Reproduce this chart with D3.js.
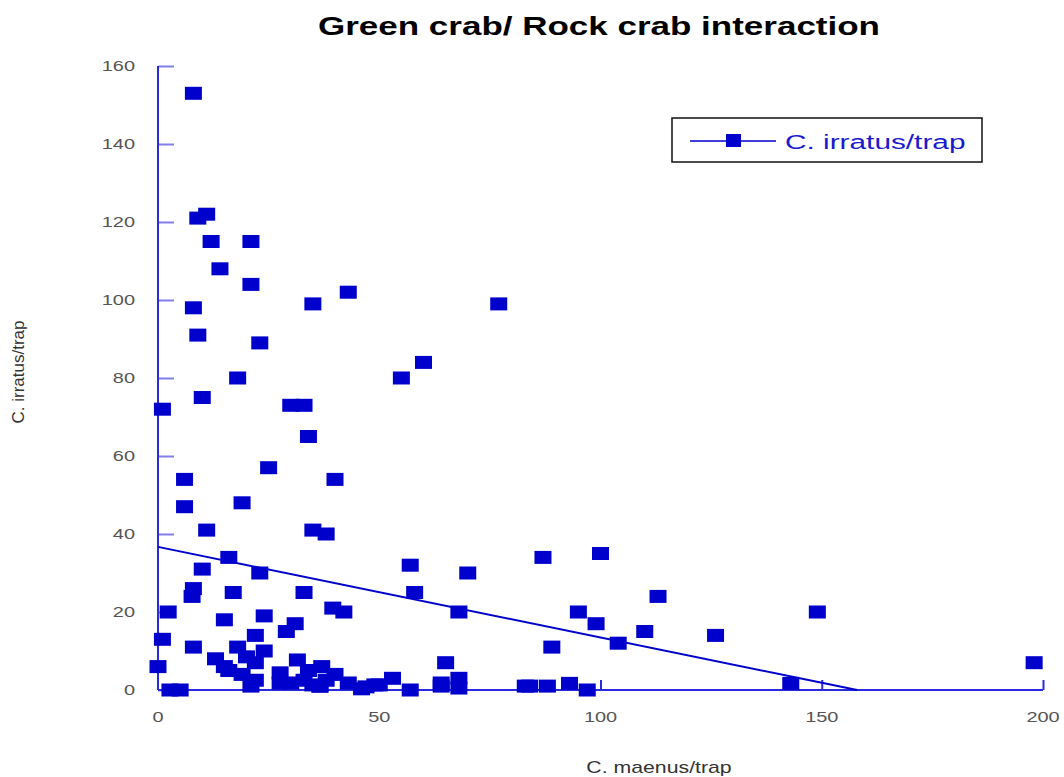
<!DOCTYPE html>
<html>
<head>
<meta charset="utf-8">
<script src="https://cdn.jsdelivr.net/npm/d3@7"></script>
<style>
  body { margin: 0; background: #fff; }
  text { font-family: "Liberation Sans", Arial, sans-serif; }
</style>
</head>
<body>
<div id="chart"></div>
<script>
// C. maenus per trap (x) vs C. irratus per trap (y)
var maenus = [8, 9, 11, 12, 21, 14, 21, 8, 35, 43, 77, 9, 23, 55, 60, 18, 10, 1, 30, 33,
    34, 25, 40, 6, 6, 19, 11, 35, 38, 16, 57, 87, 100, 70, 10, 23, 8, 7.7, 17, 33,
    58, 2.3, 24, 15, 39.5, 42, 68, 95, 99, 113, 149, 104, 110, 126, 89, 1, 8, 31, 29, 22,
    24, 13, 18, 0, 15, 20, 22, 16, 19, 22, 21, 2.7, 5, 27.6, 27.6, 31.5, 34, 35, 37, 40,
    43, 47, 49, 53, 57, 33, 30, 36.6, 65, 68, 64, 68, 50, 46, 64, 83, 84, 88, 93, 97,
    143, 198, 36.6, 38];
var irratus = [153, 121, 122, 115, 115, 108, 104, 98, 99, 102, 99, 91, 89, 80, 84, 80, 75, 72, 73, 73,
    65, 57, 54, 54, 47, 48, 41, 41, 40, 34, 32, 34, 35, 30, 31, 30, 26, 24, 25, 25,
    25, 20, 19, 18, 21, 20, 20, 20, 17, 24, 20, 12, 15, 14, 11, 13, 11, 17, 15, 14,
    10, 8, 11, 6, 6, 8.5, 7, 5, 4, 2.5, 1, 0, 0, 4.4, 1.8, 7.7, 5, 1.3, 6, 4,
    1.8, 0.8, 1.3, 3, 0, 2.5, 1.8, 1, 7, 3, 1.8, 0.5, 1.3, 0.3, 1, 1, 1, 1, 1.7, 0,
    1.7, 7, 1, 2.5];
// fitted trend line
var fitX = [0, 158];
var fitY = [36.7, 0];

var xTicks = [0, 50, 100, 150, 200];
var yTicks = [0, 20, 40, 60, 80, 100, 120, 140, 160];

var chartTitle = "Green crab/ Rock crab interaction";
var xLabel = "C. maenus/trap";
var yLabel = "C. irratus/trap";
var seriesName = "C. irratus/trap";

var W = 1064, H = 777;
var plotL = 158, plotR = 1043, plotT = 66, plotB = 690;
var blue = "#0000cc", axisBlue = "#2a2ae0", gray = "#555";
var sx = 1.33; // the original picture is stretched sideways

var svg = d3.select("#chart").append("svg")
    .attr("width", W).attr("height", H);

var x = d3.scaleLinear().domain([0, 200]).range([plotL, plotR]);
var y = d3.scaleLinear().domain([0, 160]).range([plotB, plotT]);

function place(px, py) {
    return "translate(" + px + "," + py + ") scale(" + sx + ",1)";
}

// title
svg.append("text")
    .attr("x", 599).attr("y", 35)
    .attr("text-anchor", "middle")
    .style("font-size", "25px").style("font-weight", "bold")
    .attr("textLength", 562).attr("lengthAdjust", "spacingAndGlyphs")
    .text(chartTitle);

// axes
var yAxis = d3.axisRight(y).tickValues(yTicks).tickSize(16).tickFormat("");
var gy = svg.append("g").attr("transform", "translate(" + plotL + ",0)").call(yAxis);
gy.select(".domain").remove();
gy.selectAll("line").attr("stroke", axisBlue).attr("stroke-width", 2).attr("opacity", 0.6);

var xAxis = d3.axisTop(x).tickValues(xTicks.slice(1)).tickSize(10).tickFormat("");
var gx = svg.append("g").attr("transform", "translate(0," + plotB + ")").call(xAxis);
gx.select(".domain").remove();
gx.selectAll("line").attr("stroke", axisBlue).attr("stroke-width", 2);

svg.append("line")
    .attr("x1", plotL).attr("x2", plotL).attr("y1", plotT).attr("y2", plotB)
    .attr("stroke", axisBlue).attr("stroke-width", 2);
svg.append("line")
    .attr("x1", plotL).attr("x2", plotR).attr("y1", plotB).attr("y2", plotB)
    .attr("stroke", axisBlue).attr("stroke-width", 2);

// tick labels
svg.selectAll(".ylab").data(yTicks).enter().append("text")
    .attr("transform", function (d) { return place(135, y(d) + 5); })
    .attr("text-anchor", "end")
    .style("font-size", "15px").attr("fill", gray)
    .text(function (d) { return d; });

svg.selectAll(".xlab").data(xTicks).enter().append("text")
    .attr("transform", function (d) { return place(x(d), 722); })
    .attr("text-anchor", "middle")
    .style("font-size", "15px").attr("fill", gray)
    .text(function (d) { return d; });

// axis titles
svg.append("text")
    .attr("transform", place(659, 773))
    .attr("text-anchor", "middle")
    .style("font-size", "16px").attr("fill", "#333")
    .text(xLabel);

svg.append("text")
    .attr("transform", "translate(24,372) rotate(-90)")
    .attr("text-anchor", "middle")
    .style("font-size", "17px").attr("fill", "#333")
    .text(yLabel);

// trend line
var line = d3.line()
    .x(function (d) { return x(d[0]); })
    .y(function (d) { return y(d[1]); });
svg.append("path")
    .datum(fitX.map(function (v, i) { return [v, fitY[i]]; }))
    .attr("d", line)
    .attr("fill", "none").attr("stroke", blue).attr("stroke-width", 2);

// points
var pts = maenus.map(function (v, i) { return [v, irratus[i]]; });
var mw = 17, mh = 13;
svg.append("g").selectAll("rect").data(pts).enter().append("rect")
    .attr("x", function (d) { return x(d[0]) - mw / 2; })
    .attr("y", function (d) { return y(d[1]) - mh / 2; })
    .attr("width", mw).attr("height", mh)
    .attr("fill", blue);

// legend
var lg = svg.append("g").attr("transform", "translate(672,118)");
lg.append("rect").attr("width", 310).attr("height", 44)
    .attr("fill", "#fff").attr("stroke", "#111").attr("stroke-width", 1.5);
lg.append("line").attr("x1", 18).attr("x2", 104).attr("y1", 23).attr("y2", 23)
    .attr("stroke", blue).attr("stroke-width", 1.5);
lg.append("rect").attr("x", 54).attr("y", 16).attr("width", 15).attr("height", 13)
    .attr("fill", blue);
lg.append("text").attr("transform", "translate(113,31) scale(1.42,1)")
    .style("font-size", "21px").attr("fill", "#1a1ad0")
    .text(seriesName);
</script>
</body>
</html>
